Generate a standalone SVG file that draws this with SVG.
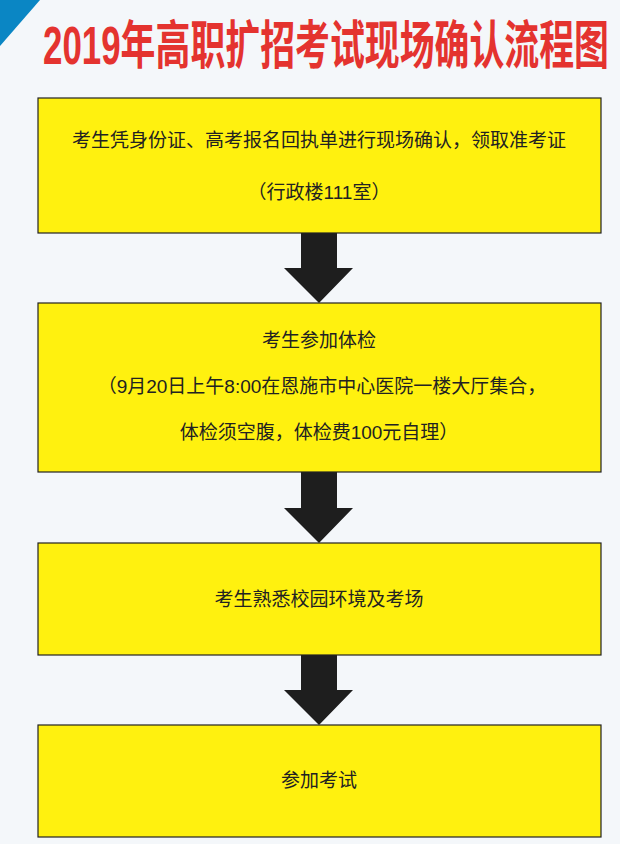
<svg xmlns="http://www.w3.org/2000/svg" width="620" height="844" viewBox="0 0 620 844">
<style>
.box{fill:#fff10f;stroke:#222;stroke-width:1.2}
.t{font-family:"Liberation Sans","Noto Sans CJK SC",sans-serif;font-size:19px;fill:#222;text-anchor:middle}
.arr{fill:#1e1e1e}
</style>
<rect width="620" height="844" fill="#f4f7fa"/>
<polygon points="0,0 40,0 0,46" fill="#0a86c4"/>
<text transform="translate(326,64) scale(1,1.2)" x="0" y="0" font-family="Liberation Sans,'Noto Sans CJK SC',sans-serif" font-weight="bold" font-size="44" fill="#e4332f" text-anchor="middle" textLength="566" lengthAdjust="spacingAndGlyphs">2019年高职扩招考试现场确认流程图</text>
<g id="connectors">
<polygon class="arr" points="301,233 337,233 337,268 353,268 319,303 284,268 301,268"/>
<polygon class="arr" points="301,472 337,472 337,508 353,508 319,543 284,508 301,508"/>
<polygon class="arr" points="301,655 337,655 337,690 353,690 319,725 284,690 301,690"/>
</g>
<g id="n1"><rect class="box" x="38" y="98" width="563" height="135"/>
<text class="t" x="319" y="147">考生凭身份证、高考报名回执单进行现场确认，领取准考证</text>
<text class="t" x="319" y="199">（行政楼111室）</text></g>
<g id="n2"><rect class="box" x="38" y="303" width="563" height="169"/>
<text class="t" x="319" y="347">考生参加体检</text>
<text class="t" x="322" y="393">（9月20日上午8:00在恩施市中心医院一楼大厅集合，</text>
<text class="t" x="319" y="439">体检须空腹，体检费100元自理）</text></g>
<g id="n3"><rect class="box" x="38" y="543" width="563" height="112"/>
<text class="t" x="319" y="606">考生熟悉校园环境及考场</text></g>
<g id="n4"><rect class="box" x="38" y="725" width="563" height="112"/>
<text class="t" x="319" y="787">参加考试</text></g>
</svg>
